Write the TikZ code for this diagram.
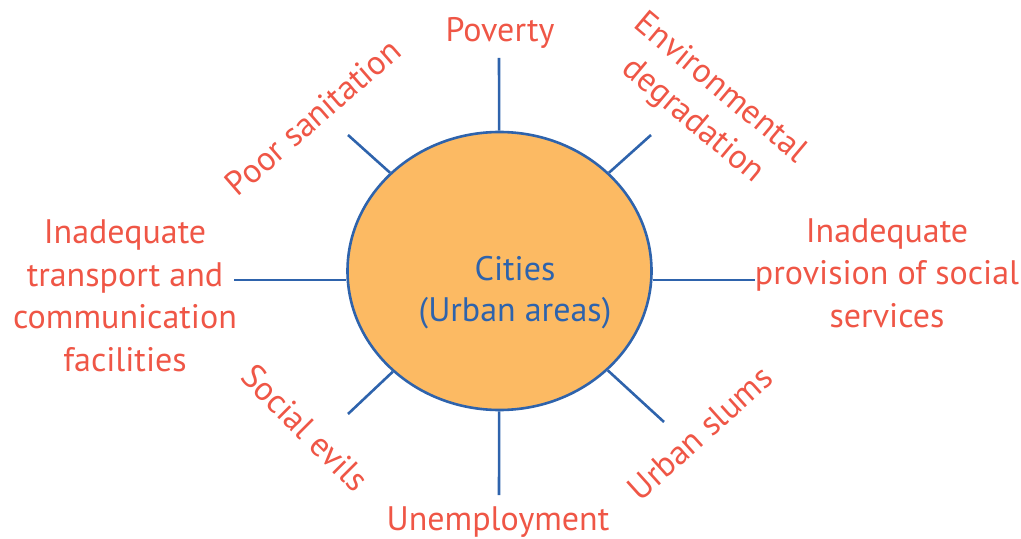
\documentclass[tikz,border=0pt]{standalone}
\usepackage{fontspec}
\setmainfont{PT Sans}
\usepackage{tikz}
\usetikzlibrary{calc,positioning,shapes.geometric}
\definecolor{issuered}{RGB}{239,86,70}
\definecolor{spokeblue}{RGB}{46,99,172}
\definecolor{hubfill}{RGB}{252,186,99}
\tikzset{
  hub/.style   = {ellipse, draw=spokeblue, line width=1.3pt, fill=hubfill,
                  minimum width=152pt, minimum height=139pt, inner sep=0pt},
  spoke/.style = {draw=spokeblue, line width=1.3pt},
  issue/.style = {text=issuered, font=\fontsize{17}{21.25}\selectfont, align=center,
                  inner sep=0pt},
  hubtext/.style = {text=spokeblue, font=\fontsize{17}{20.5}\selectfont, align=center,
                  inner sep=0pt},
}
\begin{document}
\begin{tikzpicture}[x=0.5pt,y=-0.5pt]
  \useasboundingbox (0,0) rectangle (1021,539);
  % the city in the middle
  \node[hub] (city) at (499.5,271) {};
  \node[hubtext] (citytext) at (515,293) {Cities\\(Urban areas)};
  % outer ends of the spokes
  \coordinate (n)  at (499,58);
  \coordinate (s)  at (499,495);
  \coordinate (w)  at (234,280);
  \coordinate (e)  at (755,280);
  \coordinate (nw) at (348,135);
  \coordinate (ne) at (651,135);
  \coordinate (sw) at (348,414);
  \coordinate (se) at (664,422);
  % spokes
  \draw[spoke] (city) -- (n);
  \draw[spoke] (city) -- (s);
  \draw[spoke] (city) -- (nw);
  \draw[spoke] (city) -- (ne);
  \draw[spoke] (city) -- (sw);
  \draw[spoke] (city) -- (se);
  \draw[spoke] (w) -- (w -| city.west);
  \draw[spoke] (e) -- (e -| city.east);
  % the problems
  \node[issue,anchor=base] (poverty) at (500,42) {Poverty};
  \node[issue,anchor=base] (jobs) at (498,530) {Unemployment};
  \node[issue] (transport) at (125,296)
     {Inadequate\\transport and\\communication\\facilities};
  \node[issue] (services) at (887,273)
     {Inadequate\\provision of social\\services};
  \node[issue,rotate=41] (sanitation) at (313,117) {Poor sanitation};
  \node[issue,rotate=-40] (environment) at (706,105) {Environmental\\degradation};
  \node[issue,rotate=-45] (evils) at (305,428) {Social evils};
  \node[issue,rotate=42] (slums) at (700,433) {Urban slums};
\end{tikzpicture}
\end{document}
